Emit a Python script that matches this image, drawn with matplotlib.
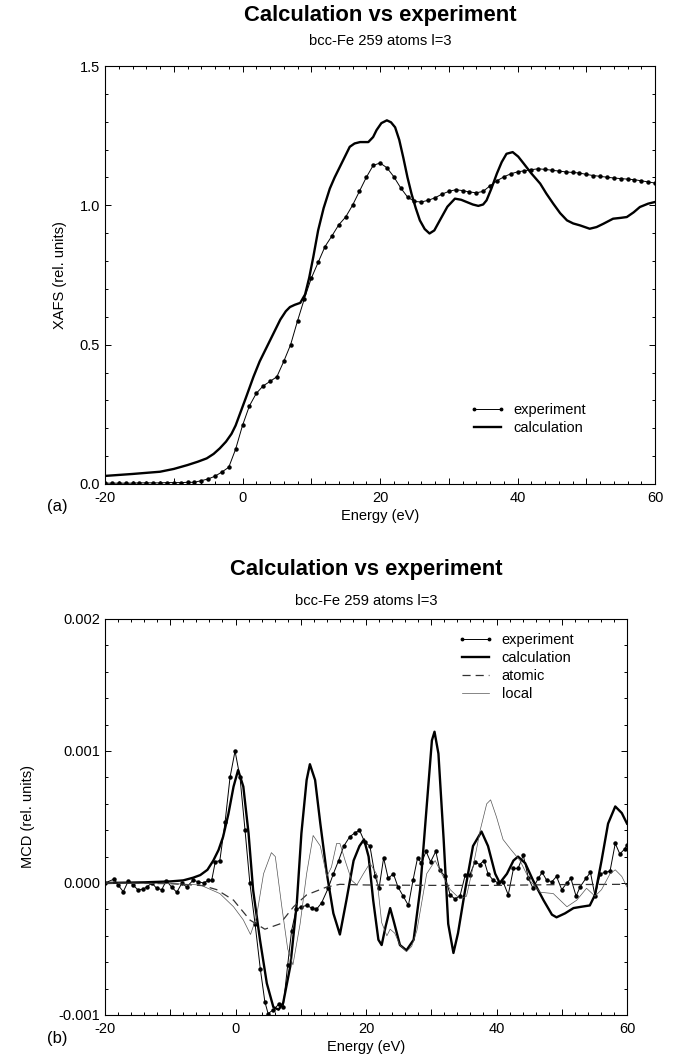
#!/usr/bin/python

import numpy as np
import matplotlib
matplotlib.use("Agg")
import matplotlib.pyplot as plt
from matplotlib.ticker import MultipleLocator, FuncFormatter

plt.rcParams["font.family"] = ["Liberation Sans", "DejaVu Sans"]
plt.rcParams["axes.unicode_minus"] = False

TITLE = "Calculation vs experiment"
SUBTITLE = "bcc-Fe 259 atoms l=3"

# ---- (a) XAFS ----
xafs_exp_E = [-20, -19, -18, -17, -16, -15, -14, -13, -12, -11, -10, -9, -8, -7,
              -6, -5, -4, -3, -2, -1, 0, 1, 2, 3, 4, 5, 6, 7, 8, 9, 10, 11, 12,
              13, 14, 15, 16, 17, 18, 19, 20, 21, 22, 23, 24, 25, 26, 27, 28,
              29, 30, 31, 32, 33, 34, 35, 36, 37, 38, 39, 40, 41, 42, 43, 44,
              45, 46, 47, 48, 49, 50, 51, 52, 53, 54, 55, 56, 57, 58, 59, 60]
xafs_exp = [0.003, 0.003, 0.003, 0.003, 0.003, 0.004, 0.004, 0.004, 0.004, 0.005,
            0.005, 0.005, 0.006, 0.006, 0.012, 0.018, 0.028, 0.043, 0.06, 0.125,
            0.21, 0.28, 0.325, 0.352, 0.368, 0.385, 0.44, 0.50, 0.585, 0.665,
            0.738, 0.795, 0.852, 0.89, 0.93, 0.958, 1.0, 1.05, 1.10, 1.143,
            1.152, 1.135, 1.103, 1.063, 1.03, 1.014, 1.012, 1.018, 1.027, 1.04,
            1.05, 1.056, 1.053, 1.048, 1.045, 1.05, 1.07, 1.088, 1.102, 1.113,
            1.12, 1.124, 1.128, 1.131, 1.129, 1.126, 1.123, 1.12, 1.118, 1.116,
            1.111, 1.107, 1.104, 1.101, 1.098, 1.096, 1.094, 1.092, 1.088,
            1.084, 1.08]

xafs_calc_E = [-20, -16, -12, -10, -8, -6.5, -5.2, -4.2, -3.3, -2.4, -1.6, -1.0,
               -0.4, 0.5, 1.6, 2.5, 3.5, 4.5, 5.5, 6.3, 6.9, 7.6, 8.4, 9.1, 9.7,
               10.3, 11.0, 11.8, 12.7, 13.4, 14.2, 15.0, 15.6, 16.3, 17.1, 18.3,
               19.0, 19.5, 20.2, 21.0, 21.6, 22.2, 22.8, 23.4, 24.0, 24.6, 25.2,
               25.8, 26.5, 27.2, 27.9, 28.7, 29.8, 30.9, 31.8, 32.6, 33.5, 34.3,
               35.0, 35.5, 36.2, 37.0, 37.7, 38.4, 39.3, 40.1, 40.9, 42.0, 43.3,
               44.2, 45.2, 46.2, 47.2, 48.1, 49.1, 50.5, 51.5, 52.5, 53.9, 55.0,
               55.9, 56.9, 57.8, 59.0, 60]
xafs_calc = [0.029, 0.036, 0.044, 0.054, 0.068, 0.080, 0.092, 0.108, 0.128,
             0.152, 0.18, 0.21, 0.25, 0.31, 0.385, 0.44, 0.49, 0.54, 0.59,
             0.62, 0.635, 0.643, 0.65, 0.68, 0.74, 0.815, 0.91, 0.99, 1.06,
             1.10, 1.14, 1.18, 1.21, 1.222, 1.227, 1.227, 1.245, 1.27, 1.295,
             1.305, 1.298, 1.28, 1.235, 1.17, 1.10, 1.04, 0.99, 0.946, 0.915,
             0.899, 0.91, 0.946, 0.995, 1.024, 1.02, 1.012, 1.003, 0.998, 1.003,
             1.018, 1.06, 1.114, 1.155, 1.185, 1.191, 1.175, 1.15, 1.115, 1.078,
             1.042, 1.006, 0.972, 0.946, 0.935, 0.928, 0.916, 0.922, 0.934,
             0.952, 0.955, 0.958, 0.975, 0.994, 1.006, 1.012]

# ---- (b) MCD (values in units of 1e-3) ----
mcd_exp_E = [-20, -18.6, -18.0, -17.2, -16.4, -15.7, -15.0, -14.2, -13.6, -12.8,
             -12.1, -11.3, -10.6, -9.8, -9.0, -8.2, -7.5, -6.5, -5.7, -4.9,
             -4.2, -3.65, -3.1, -2.4, -1.6, -0.84, -0.07, 0.69, 1.46, 2.2, 3.0,
             3.8, 4.5, 5.0, 5.8, 6.6, 7.3, 8.0, 8.6, 9.3, 10.1, 10.9, 11.7,
             12.4, 13.2, 14.2, 15.0, 15.8, 16.6, 17.5, 18.3, 19.0, 19.8, 20.6,
             21.4, 22.0, 22.7, 23.4, 24.2, 24.9, 25.7, 26.5, 27.2, 27.9, 28.5,
             29.2, 29.9, 30.7, 31.3, 32.1, 32.9, 33.6, 34.4, 35.2, 35.9, 36.7,
             37.4, 38.1, 38.7, 39.5, 40.3, 41.0, 41.8, 42.6, 43.3, 44.1, 44.9,
             45.6, 46.4, 47.0, 47.7, 48.5, 49.2, 50.0, 50.8, 51.4, 52.2, 52.8,
             53.7, 54.4, 55.1, 55.9, 56.6, 57.4, 58.2, 58.9, 59.7, 60.0]
mcd_exp = [0.0, 0.03, -0.015, -0.066, 0.018, -0.015, -0.05, -0.048, -0.03, 0.0,
           -0.04, -0.05, 0.018, -0.03, -0.07, 0.0, -0.03, 0.02, 0.01, 0.0,
           0.02, 0.02, 0.16, 0.17, 0.46, 0.8, 1.0, 0.8, 0.4, 0.0, -0.31,
           -0.65, -0.9, -0.99, -0.96, -0.92, -0.94, -0.62, -0.36, -0.2, -0.18,
           -0.17, -0.19, -0.2, -0.15, -0.04, 0.07, 0.17, 0.28, 0.35, 0.38, 0.40,
           0.31, 0.28, 0.05, -0.04, 0.19, 0.035, 0.07, -0.03, -0.1, -0.17, 0.02,
           0.19, 0.15, 0.24, 0.16, 0.24, 0.1, 0.05, -0.09, -0.12, -0.1, 0.06,
           0.06, 0.16, 0.14, 0.17, 0.07, 0.02, 0.0, 0.01, -0.09, 0.11, 0.11,
           0.21, 0.035, -0.04, 0.035, 0.08, 0.02, 0.01, 0.05, -0.05, 0.0, 0.035,
           -0.1, -0.03, 0.035, 0.08, -0.1, 0.07, 0.08, 0.09, 0.3, 0.22, 0.26, 0.29]

mcd_calc_E = [-20, -14, -10, -8, -6.5, -5.4, -4.3, -3.4, -2.6, -1.9, -1.1, -0.3,
              0.4, 1.2, 2.0, 2.7, 3.75, 4.8, 5.8, 6.6, 7.3, 8.4, 9.4, 10.1,
              10.9, 11.4, 12.2, 13.0, 14.0, 15.0, 16.0, 17.0, 18.1, 19.0, 19.7,
              20.4, 21.1, 21.9, 22.4, 23.0, 23.7, 24.2, 25.2, 26.2, 27.3, 28.3,
              29.3, 30.1, 30.5, 31.1, 31.9, 32.6, 33.4, 34.1, 35.2, 36.4, 37.7,
              38.7, 39.8, 40.5, 41.6, 42.6, 43.3, 44.4, 45.6, 47.2, 48.5, 49.2,
              50.5, 51.8, 53.0, 54.3, 55.1, 56.1, 57.1, 58.2, 59.2, 60.0]
mcd_calc = [0.0, 0.005, 0.012, 0.02, 0.04, 0.06, 0.1, 0.17, 0.25, 0.35, 0.52,
            0.73, 0.856, 0.73, 0.376, -0.053, -0.43, -0.76, -0.94, -0.96,
            -0.91, -0.63, -0.15, 0.376, 0.78, 0.90, 0.78, 0.45, 0.07, -0.23,
            -0.39, -0.13, 0.17, 0.28, 0.33, 0.2, -0.13, -0.43, -0.47, -0.33,
            -0.19, -0.28, -0.47, -0.51, -0.43, -0.05, 0.58, 1.08, 1.146, 0.98,
            0.33, -0.31, -0.53, -0.38, -0.05, 0.28, 0.39, 0.28, 0.07, 0.0, 0.07,
            0.17, 0.2, 0.15, 0.02, -0.13, -0.24, -0.26, -0.23, -0.19, -0.18,
            -0.17, -0.09, 0.17, 0.45, 0.58, 0.53, 0.45]

mcd_atomic_E = [-20, -10, -5, -2.9, -0.3, 2.2, 4.5, 6.8, 8.9, 10.9, 14.0, 16.0,
                20, 30, 40, 50, 60]
mcd_atomic = [0.0, -0.005, -0.02, -0.05, -0.13, -0.28, -0.35, -0.31, -0.18,
              -0.09, -0.03, -0.01, -0.015, -0.018, -0.018, -0.012, -0.01]

mcd_local_E = [-20, -10, -5.4, -2.4, -0.3, 1.2, 2.3, 3.2, 4.3, 5.5, 6.1, 7.1,
               8.0, 8.8, 9.9, 10.9, 11.9, 13.0, 14.0, 14.7, 15.5, 16.0, 16.8,
               17.8, 18.6, 19.6, 20.6, 21.6, 22.4, 23.2, 23.7, 24.4, 25.2, 26.2,
               27.0, 27.8, 29.3, 30.6, 31.6, 32.9, 34.4, 35.4, 36.4, 37.5, 38.5,
               39.1, 40.0, 41.0, 42.1, 43.6, 45.1, 46.7, 48.7, 50.8, 52.3, 53.8,
               55.1, 56.1, 57.4, 58.2, 59.2, 60.0]
mcd_local = [0.0, -0.003, -0.015, -0.08, -0.18, -0.28, -0.39, -0.26, 0.07, 0.23,
             0.2, -0.18, -0.5, -0.62, -0.31, 0.07, 0.36, 0.28, 0.05, 0.12, 0.3,
             0.3, 0.17, 0.02, -0.015, 0.07, 0.15, 0.07, -0.3, -0.4, -0.35,
             -0.38, -0.47, -0.52, -0.48, -0.36, 0.07, 0.17, 0.07, -0.05, -0.12,
             -0.1, 0.12, 0.4, 0.6, 0.63, 0.5, 0.33, 0.26, 0.17, 0.02, -0.07,
             -0.08, -0.18, -0.13, -0.04, -0.1, -0.05, 0.07, 0.1, 0.05, -0.03]

FS = 10.5


def _energyAxis(ax):
  """
  Energy axis with ticks inside on all sides.
  """
  ax.set_xlim(-20, 60)
  ax.xaxis.set_major_locator(MultipleLocator(10))
  ax.xaxis.set_minor_locator(MultipleLocator(2))
  ax.xaxis.set_major_formatter(
    FuncFormatter(lambda v, p: "%d" % v if abs(v % 20) < 1e-6 else ""))
  ax.tick_params(which='both', direction='in', top=True, right=True,
                 labelsize=FS, width=0.7)
  ax.tick_params(axis='x', pad=5)
  ax.tick_params(which='major', length=4.5)
  ax.tick_params(which='minor', length=2.2)
  for s in ax.spines.values():
    s.set_linewidth(0.8)
  ax.set_xlabel("Energy (eV)", fontsize=FS, labelpad=3)


def _legend(ax, x, y):
  ax.legend(loc='upper left', bbox_to_anchor=(x, y), frameon=False,
            numpoints=2, fontsize=FS, handlelength=2.4, handletextpad=0.6,
            labelspacing=0.28, markerscale=0.8, borderpad=0,
            borderaxespad=0)


def _titles(fig, xc, ytitle, ysub):
  fig.text(xc, ytitle, TITLE, ha='center', va='center',
           fontsize=15.8, fontweight='bold')
  fig.text(xc, ysub, SUBTITLE, ha='center', va='center', fontsize=10.6)


def main():
  W, H = 680, 1059
  fig = plt.figure(figsize=(W/100, H/100), dpi=100)

  # (a)
  ax = fig.add_axes([105/W, 1 - 484/H, 550/W, 418/H])
  ax.plot(xafs_exp_E, xafs_exp, '-', color='k', lw=0.7, marker='o', ms=2.2,
          label="experiment")
  ax.plot(xafs_calc_E, xafs_calc, '-', color='k', lw=1.7, label="calculation")
  _energyAxis(ax)
  ax.set_ylim(0, 1.5)
  ax.yaxis.set_major_locator(MultipleLocator(0.5))
  ax.yaxis.set_minor_locator(MultipleLocator(0.1))
  ax.yaxis.set_major_formatter(FuncFormatter(lambda v, p: "%.1f" % v))
  ax.set_ylabel("XAFS (rel. units)", fontsize=FS, labelpad=9)
  _legend(ax, (470 - 105)/550, (484 - 403)/418)
  _titles(fig, 380/W, 1 - 15/H, 1 - 41/H)
  fig.text(57/W, 1 - 507/H, "(a)", ha='center', va='center', fontsize=12)

  # (b)
  bx = fig.add_axes([105/W, 1 - 1015/H, 522/W, 396/H])
  bx.plot(mcd_exp_E, np.array(mcd_exp)*1e-3, '-', color='k', lw=0.7,
          marker='o', ms=2.2, label="experiment")
  bx.plot(mcd_calc_E, np.array(mcd_calc)*1e-3, '-', color='k', lw=1.7,
          label="calculation")
  bx.plot(mcd_atomic_E, np.array(mcd_atomic)*1e-3, '--', color='#333333',
          lw=0.9, dashes=(6.5, 4), label="atomic")
  bx.plot(mcd_local_E, np.array(mcd_local)*1e-3, '-', color='#555555',
          lw=0.5, label="local")
  _energyAxis(bx)
  bx.set_ylim(-0.001, 0.002)
  bx.yaxis.set_major_locator(MultipleLocator(0.001))
  bx.yaxis.set_minor_locator(MultipleLocator(0.0002))
  bx.yaxis.set_major_formatter(FuncFormatter(lambda v, p: "%.3f" % v))
  bx.set_ylabel("MCD (rel. units)", fontsize=FS, labelpad=17)
  _legend(bx, (458 - 105)/522, (1015 - 633)/396)
  _titles(fig, 366/W, 1 - 570/H, 1 - 601/H)
  fig.text(57/W, 1 - 1038/H, "(b)", ha='center', va='center', fontsize=12)

  fig.savefig("out.png", dpi=100)


if __name__ == "__main__":
  main()
